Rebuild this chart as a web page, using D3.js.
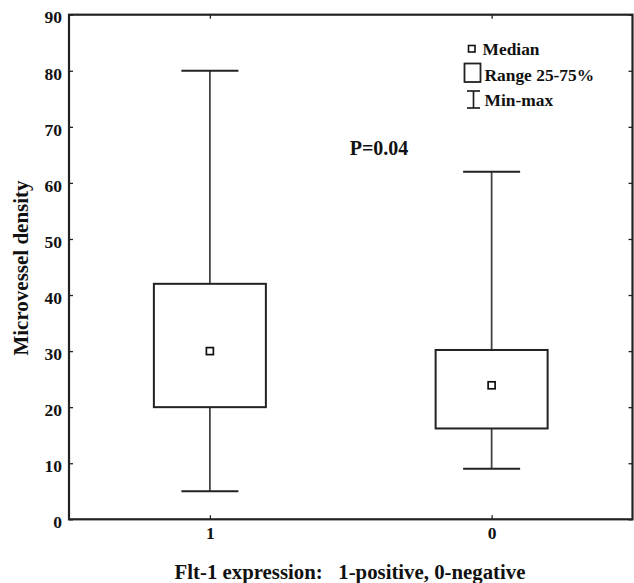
<!DOCTYPE html>
<html><head><meta charset="utf-8">
<script src="https://cdn.jsdelivr.net/npm/d3@7"></script>
<style>body{margin:0;background:#fff}svg text{font-family:"Liberation Serif","Times New Roman",serif;font-weight:bold;fill:#111}</style>
</head><body><svg id="c" width="634" height="583"></svg>
<script>
const categories = ["1", "0"];
const mins = [5, 9];
const q1 = [20, 16.2];
const medians = [30, 23.9];
const q3 = [42, 30.2];
const maxs = [80, 62];
const yTicks = [0, 10, 20, 30, 40, 50, 60, 70, 80, 90];
const pText = "P=0.04";
const xTitle = "Flt-1 expression:   1-positive, 0-negative";
const yTitle = "Microvessel density";
const legendLabels = ["Median", "Range 25-75%", "Min-max"];

const svg = d3.select("#c");
const L = 69, R = 632.5, T = 14.7, B = 519.3;
const x = d3.scalePoint().domain(categories).range([L, R]).padding(0.5);
const y = d3.scaleLinear().domain([0, 90]).range([B, T]);
const boxW = 112, capW = 57, med = 7;

const ax = d => d.call(g => g.select(".domain").remove()).call(g => g.selectAll("line").attr("stroke", "#222").attr("stroke-width", 1.3));
svg.append("g").attr("transform", `translate(${L},0)`).call(d3.axisLeft(y).tickValues(yTicks).tickSize(-4).tickPadding(7).tickFormat(d3.format("d")))
  .call(ax).call(g => g.selectAll("text").attr("font-size", 17.5).attr("dy", "0.47em"));
svg.append("g").attr("transform", `translate(${R},0)`).call(d3.axisRight(y).tickValues(yTicks).tickSize(-4).tickFormat(""))
  .call(ax);
svg.append("g").attr("transform", `translate(0,${B})`).call(d3.axisBottom(x).tickSize(-4).tickPadding(7))
  .call(ax).call(g => g.selectAll("text").attr("font-size", 17.5));
svg.append("g").attr("transform", `translate(0,${T})`).call(d3.axisTop(x).tickSize(-4).tickFormat(""))
  .call(ax);
svg.append("rect").attr("x", L).attr("y", T).attr("width", R - L).attr("height", B - T)
  .attr("fill", "none").attr("stroke", "#222").attr("stroke-width", 2.2);

const data = categories.map((c, i) => ({c, lo: mins[i], q1: q1[i], m: medians[i], q3: q3[i], hi: maxs[i]}));
const g = svg.append("g").selectAll("g").data(data).join("g");
g.append("line").attr("x1", d => x(d.c)).attr("x2", d => x(d.c)).attr("y1", d => y(d.hi)).attr("y2", d => y(d.q3)).attr("stroke", "#444").attr("stroke-width", 1.8);
g.append("line").attr("x1", d => x(d.c)).attr("x2", d => x(d.c)).attr("y1", d => y(d.q1)).attr("y2", d => y(d.lo)).attr("stroke", "#444").attr("stroke-width", 1.8);
g.append("line").attr("x1", d => x(d.c) - capW / 2).attr("x2", d => x(d.c) + capW / 2).attr("y1", d => y(d.hi)).attr("y2", d => y(d.hi)).attr("stroke", "#222").attr("stroke-width", 2);
g.append("line").attr("x1", d => x(d.c) - capW / 2).attr("x2", d => x(d.c) + capW / 2).attr("y1", d => y(d.lo)).attr("y2", d => y(d.lo)).attr("stroke", "#222").attr("stroke-width", 2);
g.append("rect").attr("x", d => x(d.c) - boxW / 2).attr("width", boxW).attr("y", d => y(d.q3)).attr("height", d => y(d.q1) - y(d.q3))
  .attr("fill", "#fff").attr("stroke", "#222").attr("stroke-width", 2);
g.append("rect").attr("x", d => x(d.c) - med / 2).attr("width", med).attr("y", d => y(d.m) - med / 2).attr("height", med)
  .attr("fill", "#fff").attr("stroke", "#111").attr("stroke-width", 1.7);

svg.append("text").attr("x", 379).attr("y", 155).attr("text-anchor", "middle").attr("font-size", 20).text(pText);

const lg = svg.append("g");
lg.append("rect").attr("x", 468.5).attr("y", 45.5).attr("width", 6.5).attr("height", 6.5).attr("fill", "#fff").attr("stroke", "#111").attr("stroke-width", 1.6);
lg.append("rect").attr("x", 464.5).attr("y", 63.5).attr("width", 16).attr("height", 18.5).attr("fill", "#fff").attr("stroke", "#222").attr("stroke-width", 1.8);
lg.append("line").attr("x1", 473.5).attr("x2", 473.5).attr("y1", 91).attr("y2", 108).attr("stroke", "#222").attr("stroke-width", 1.7);
lg.append("line").attr("x1", 467).attr("x2", 480).attr("y1", 91).attr("y2", 91).attr("stroke", "#222").attr("stroke-width", 1.7);
lg.append("line").attr("x1", 467).attr("x2", 480).attr("y1", 108).attr("y2", 108).attr("stroke", "#222").attr("stroke-width", 1.7);
lg.selectAll("text.l").data(legendLabels).join("text").attr("class", "l")
  .attr("x", (d, i) => i === 0 ? 482.5 : 484.5).attr("y", (d, i) => [49, 75, 100][i]).attr("dy", "0.35em")
  .attr("font-size", 17.4).text(d => d);

svg.append("text").attr("x", 350).attr("y", 578.5).attr("text-anchor", "middle").attr("font-size", 20.8).style("white-space", "pre").text(xTitle);
svg.append("text").attr("transform", "translate(27.5,268) rotate(-90)").attr("text-anchor", "middle").attr("font-size", 21).text(yTitle);
</script></body></html>
